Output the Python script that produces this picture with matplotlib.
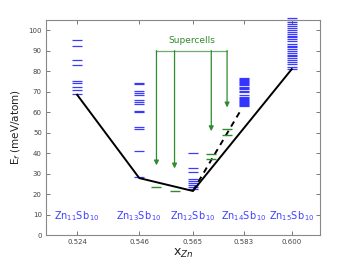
import matplotlib
matplotlib.use('Agg')
import matplotlib.pyplot as plt

# compositions (x_Zn) and labels
x_zn = [0.524, 0.546, 0.565, 0.583, 0.600]
tick_labels = ['0.524', '0.546', '0.565', '0.583', '0.600']
formulas = ['Zn$_{11}$Sb$_{\\,10}$', 'Zn$_{13}$Sb$_{\\,10}$', 'Zn$_{12}$Sb$_{\\,10}$',
            'Zn$_{14}$Sb$_{\\,10}$', 'Zn$_{15}$Sb$_{\\,10}$']

# formation energies of configurations (meV/atom)
ef_11 = [95.3, 92.3, 85.4, 82.8, 75.3, 74.0, 72.4, 70.7, 68.9]
ef_13 = [74.3, 73.7, 70.4, 69.5, 68.5, 65.9, 64.9, 63.9, 60.6, 60.0, 52.5, 51.8, 40.8, 28.1]
ef_12 = [39.8, 32.7, 30.7, 27.3, 26.3, 25.4, 24.4, 23.4, 22.4]
ef_14 = [76.5, 76.0, 75.5, 75.0, 74.5, 74.0, 73.5, 73.0, 72.5, 72.0, 71.5, 70.5, 70.0,
         68.5, 67.5, 67.0, 66.5, 66.0, 65.5, 65.0, 64.5, 64.0, 63.5, 63.0]
ef_15 = [81.0, 82.0, 83.5, 84.5, 85.5, 86.5, 87.5, 88.0, 89.0, 90.0, 91.0, 92.0, 92.5,
         93.5, 94.5, 95.5, 96.5, 97.0, 98.0, 99.0, 100.0, 101.0, 102.0, 103.0, 104.0,
         105.0, 106.0]
ef_all = [ef_11, ef_13, ef_12, ef_14, ef_15]

# convex hull
hull_x = [0.524, 0.546, 0.565, 0.600]
hull_y = [68.5, 27.8, 21.5, 81.0]
dash_x = [0.565, 0.5822]
dash_y = [21.5, 61.5]

# supercells
sc_x = [0.5521, 0.5585, 0.5715, 0.5771]
sc_pairs = [[23.6], [21.6], [39.5, 37.2], [51.6, 48.9]]
sc_arrow_end = [34.0, 32.5, 50.7, 62.3]
sc_top = 90.0

blue = '#1a1aff'
green = '#2e8b2e'

fig = plt.figure(figsize=(3.54, 2.66), dpi=100)
ax = fig.add_axes([0.130, 0.1165, 0.774, 0.8085])

for x, vals in zip(x_zn, ef_all):
    ax.plot([x] * len(vals), vals, linestyle='none', marker='_', markersize=6.5,
            markeredgewidth=0.9, color=blue, alpha=0.85, clip_on=False)

ax.plot(hull_x, hull_y, color='black', lw=1.4)
ax.plot(dash_x, dash_y, color='black', lw=1.4, linestyle=(0, (3, 2.5)))

for x, vals in zip(sc_x, sc_pairs):
    ax.plot([x] * len(vals), vals, linestyle='none', marker='_', markersize=6.5,
            markeredgewidth=1.0, color=green)

ax.plot([sc_x[0], sc_x[-1]], [sc_top, sc_top], color=green, lw=0.9, alpha=0.7)
for x, yend in zip(sc_x, sc_arrow_end):
    ax.annotate('', xy=(x, yend), xytext=(x, sc_top),
                arrowprops=dict(arrowstyle='-|>', color=green, lw=0.9,
                                mutation_scale=7, shrinkA=0, shrinkB=0))
ax.text((sc_x[0] + sc_x[-1]) / 2, 93, 'Supercells', color=green, fontsize=6.5,
        ha='center', va='bottom')

for x, lab in zip(x_zn, formulas):
    ax.text(x, 9, lab, color='#4040ff', fontsize=7, ha='center', va='center')

ax.set_xlim(0.513, 0.61)
ax.set_ylim(0, 105)
ax.set_xticks(x_zn)
ax.set_xticklabels(tick_labels)
ax.set_yticks(range(0, 101, 10))
ax.tick_params(direction='in', top=True, right=True, labelsize=5, colors='#444444',
               length=3, width=0.5, pad=3)
for s in ax.spines.values():
    s.set_color('#888888')
    s.set_linewidth(0.8)
ax.set_ylabel('E$_f$ (meV/atom)', fontsize=7.5, color='#222222', labelpad=4)
ax.set_xlabel('x$_{Zn}$', fontsize=9, color='#222222', labelpad=1)

fig.savefig('out.png', dpi=100)
